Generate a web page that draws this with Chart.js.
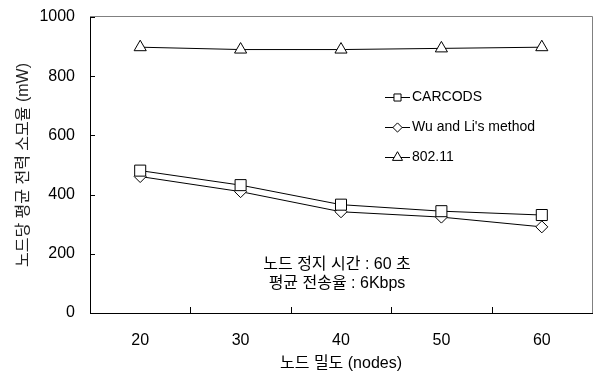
<!DOCTYPE html>
<html>
<head>
<meta charset="utf-8">
<script src="https://cdn.jsdelivr.net/npm/chart.js@4"></script>
<style>
    html, body { margin: 0; padding: 0; background: #fff; }
    #wrap { width: 594px; height: 374px; }
</style>
</head>
<body>
<div id="wrap"><canvas id="powerChart" width="594" height="374"></canvas></div>
<script>
// 노드 밀도별 평균 전력 소모율 (mW)
const nodeDensity = ['20', '30', '40', '50', '60']
const carcods = [481, 432, 366, 344, 331]
const wuLi = [461, 410, 342, 324, 291]
const ieee80211 = [898, 890, 890, 894, 898]
const yTicks = [0, 200, 400, 600, 800, 1000]
const seriesNames = ['CARCODS', "Wu and Li's method", '802.11']
const noteLines = ['노드 정지 시간 : 60 초', '평균 전송율 : 6Kbps']

const FONT = "'Liberation Sans', 'Noto Sans CJK KR', sans-serif"

// 데이터셋 공통 스타일
const makeSeries = (label, data, pointStyle, radius, legendRadius) => ({
    label,
    data,
    borderColor: '#000',
    borderWidth: 1,
    backgroundColor: '#fff',
    pointStyle,
    pointRadius: radius,
    pointHoverRadius: radius,
    pointBackgroundColor: '#fff',
    pointBorderColor: '#000',
    pointBorderWidth: 1,
    tension: 0,
    legendRadius
})

// 테두리, 안쪽 눈금, 범례, 주석
const framePlugin = {
    id: 'framePlugin',
    beforeDatasetsDraw(chart) {
        const { ctx, chartArea: a, scales: { x, y } } = chart
        ctx.save()
        ctx.lineWidth = 1
        ctx.strokeStyle = '#808080'
        ctx.beginPath()
        ctx.moveTo(a.left, a.top - 0.5)
        ctx.lineTo(a.right + 0.5, a.top - 0.5)
        ctx.lineTo(a.right + 0.5, a.bottom)
        ctx.stroke()

        ctx.strokeStyle = '#000'
        ctx.beginPath()
        y.ticks.forEach(t => {
            const py = Math.round(y.getPixelForValue(t.value)) + 0.5
            ctx.moveTo(a.left, py)
            ctx.lineTo(a.left + 5, py)
        })
        for (let i = 0; i < nodeDensity.length - 1; i++) {
            const px = Math.round((x.getPixelForValue(i) + x.getPixelForValue(i + 1)) / 2) + 0.5
            ctx.moveTo(px, a.bottom)
            ctx.lineTo(px, a.bottom - 6)
        }
        ctx.stroke()
        ctx.restore()
    },
    afterDraw(chart) {
        const { ctx, chartArea: a, scales: { x, y } } = chart
        ctx.save()
        // 범례
        const x0 = a.left + 295
        chart.data.datasets.forEach((ds, i) => {
            const ly = a.top + 80.5 + i * 30
            ctx.strokeStyle = '#000'
            ctx.lineWidth = 1
            ctx.beginPath()
            ctx.moveTo(x0, ly)
            ctx.lineTo(x0 + 25, ly)
            ctx.stroke()
            ctx.fillStyle = '#fff'
            Chart.helpers.drawPoint(ctx, {
                pointStyle: ds.pointStyle,
                radius: ds.legendRadius,
                borderWidth: 1,
                rotation: 0
            }, x0 + 12.5, ly)
            ctx.fillStyle = '#000'
            ctx.font = '14px ' + FONT
            ctx.textAlign = 'left'
            ctx.textBaseline = 'middle'
            ctx.fillText(ds.label, x0 + 27, ly)
        })
        // 주석
        ctx.fillStyle = '#000'
        ctx.font = '16px ' + FONT
        ctx.textAlign = 'center'
        ctx.textBaseline = 'middle'
        const cx = x.getPixelForValue(2) - 4
        ctx.fillText(noteLines[0], cx, y.getPixelForValue(162))
        ctx.fillText(noteLines[1], cx, y.getPixelForValue(98))
        ctx.restore()
    }
}

const ctx = document.getElementById('powerChart').getContext('2d')
new Chart(ctx, {
    type: 'line',
    data: {
        labels: nodeDensity,
        datasets: [
            makeSeries(seriesNames[0], carcods, 'rect', 7.8, 5),
            makeSeries(seriesNames[1], wuLi, 'rectRot', 6, 4.6),
            makeSeries(seriesNames[2], ieee80211, 'triangle', 7, 5.8)
        ]
    },
    options: {
        responsive: false,
        animation: false,
        events: [],
        layout: { autoPadding: false, padding: { top: 17, right: 2, left: 0, bottom: 0 } },
        plugins: {
            legend: { display: false },
            tooltip: { enabled: false }
        },
        scales: {
            x: {
                type: 'category',
                offset: true,
                afterFit: scale => {
                    scale.height = 61
                    scale.paddingLeft = 0
                    scale.paddingRight = 0
                },
                grid: { display: false, drawTicks: false },
                border: { display: true, color: '#000', width: 1 },
                ticks: { color: '#000', padding: 18, font: { family: FONT, size: 16 } },
                title: {
                    display: true,
                    text: '노드 밀도 (nodes)',
                    color: '#000',
                    font: { family: FONT, size: 16 },
                    padding: { top: 0, bottom: 1 }
                }
            },
            y: {
                min: 0,
                max: 1000,
                afterFit: scale => {
                    scale.width = 90
                    scale.paddingTop = 0
                    scale.paddingBottom = 0
                },
                afterBuildTicks: scale => { scale.ticks = yTicks.map(v => ({ value: v })) },
                grid: { display: false, drawTicks: false },
                border: { display: true, color: '#000', width: 1 },
                ticks: {
                    color: '#000',
                    padding: 15,
                    font: { family: FONT, size: 16 },
                    callback: v => String(v)
                },
                title: {
                    display: true,
                    text: '노드당 평균 전력 소모율 (mW)',
                    color: '#222',
                    font: { family: FONT, size: 16 },
                    padding: { top: 14, bottom: 0 }
                }
            }
        }
    },
    plugins: [framePlugin]
})
</script>
</body>
</html>
